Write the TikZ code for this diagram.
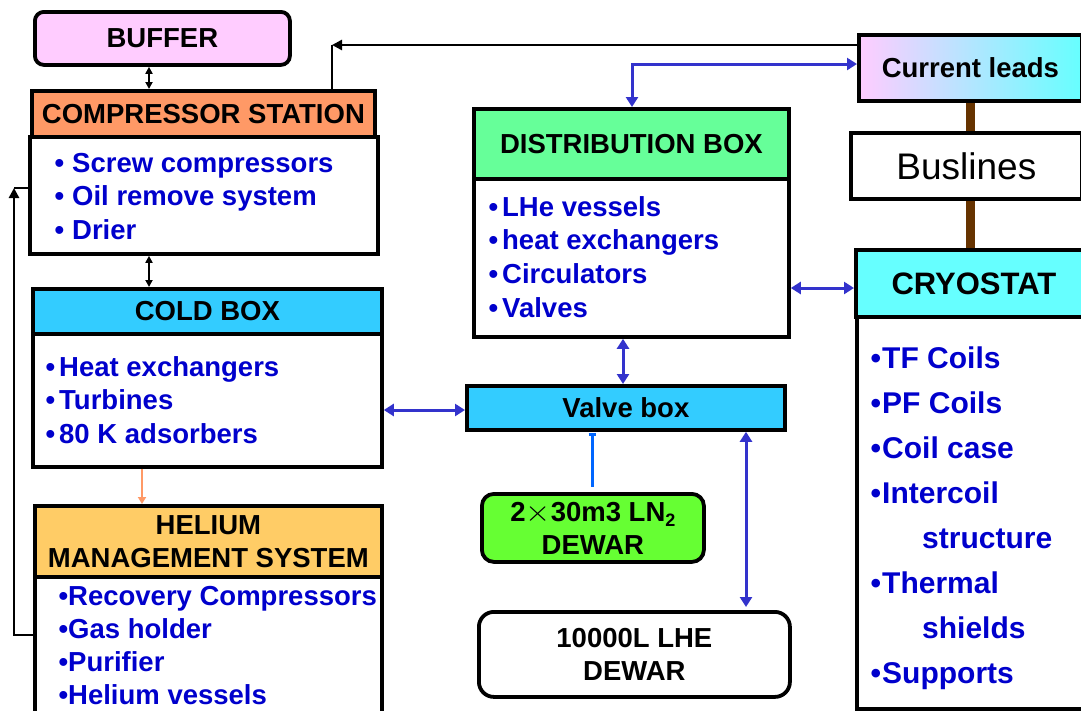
\documentclass[tikz,border=0pt]{standalone}
\usepackage{fontspec}
\setmainfont{Liberation Sans}
\usetikzlibrary{arrows.meta}

\definecolor{itemblue}{HTML}{0000CC}
\definecolor{linkblue}{HTML}{3333CC}
\definecolor{lnblue}{HTML}{0066FF}
\definecolor{bufpink}{HTML}{FFCCFF}
\definecolor{comporange}{HTML}{FF9966}
\definecolor{coldcyan}{HTML}{33CCFF}
\definecolor{hegold}{HTML}{FFCC66}
\definecolor{distgreen}{HTML}{66FF99}
\definecolor{lngreen}{HTML}{66FF33}
\definecolor{cryocyan}{HTML}{66FFFF}
\definecolor{busbrown}{HTML}{663300}

% bullet hung left of the item text
\newcommand{\itemdot}[1]{\llap{•\kern#1}}

\tikzset{
	box/.style={draw, line width=3.8pt, inner sep=0pt, anchor=north west, align=center,
		font=\fontsize{27.5}{33}\selectfont\bfseries},
	item/.style={anchor=base west, inner sep=0pt, text=itemblue,
		font=\fontsize{27.5}{33}\selectfont\bfseries},
	link/.style={line width=3pt, linkblue, {Triangle[length=10pt,width=12pt]}-{Triangle[length=10pt,width=12pt]}},
	blk/.style={line width=2.8pt, black},
}

\begin{document}
\begin{tikzpicture}[x=1pt, y=-1pt]
			\useasboundingbox (0,0) rectangle (1081,710);
			\clip (0,0) rectangle (1081,710);
			
			% left column
			\node[box, rounded corners=9pt, fill=bufpink, minimum width=255pt, minimum height=53pt] (buffer) at (33,10) {BUFFER};
			\node[box, fill=comporange, minimum width=343pt, minimum height=46pt] (comphead) at (30,89) {COMPRESSOR STATION};
			\node[box, minimum width=348pt, minimum height=117pt] (compbody) at (28,135) {};
			\node[box, fill=coldcyan, minimum width=349pt, minimum height=45pt] (coldhead) at (31,287) {COLD BOX};
			\node[box, minimum width=349pt, minimum height=133pt] (coldbody) at (31,332) {};
			\node[box, fill=hegold, minimum width=347pt, minimum height=71pt] (hehead) at (33,504) {HELIUM\\MANAGEMENT SYSTEM};
			\node[box, minimum width=347pt, minimum height=160pt] (hebody) at (33,575) {};
			
			\foreach \t [count=\k from 0] in {Screw compressors, Oil remove system, Drier}
				\node[item] (comp-\k) at (72,{172+33.5*\k}) {\itemdot{8pt}{\mdseries}\t};
			\foreach \t [count=\k from 0] in {Heat exchangers, Turbines, 80 K adsorbers}
				\node[item] (cold-\k) at (59,{376+33.5*\k}) {\itemdot{4pt}\t};
			\foreach \t [count=\k from 0] in {Recovery Compressors, Gas holder, Purifier, Helium vessels}
				\node[item] (he-\k) at (68,{605+33*\k}) {\itemdot{0pt}\t};
			
			% middle column
			\node[box, fill=distgreen, minimum width=315pt, minimum height=70pt] (disthead) at (472,107) {DISTRIBUTION BOX};
			\node[box, minimum width=315pt, minimum height=158pt] (distbody) at (472,177) {};
			\node[box, fill=coldcyan, minimum width=318pt, minimum height=44pt] (valve) at (465,384) {Valve box};
			\node[box, rounded corners=12pt, fill=lngreen, minimum width=222pt, minimum height=68pt] (ln) at (480,492)
				{2\scalebox{1.3}[1.2]{$\times$}30m3 LN\raisebox{-5pt}{\fontsize{18}{18}\selectfont 2}\\DEWAR};
			\node[box, rounded corners=15pt, fill=white, minimum width=311pt, minimum height=85pt] (lhe) at (477,610) {10000L LHE\\DEWAR};
			
			\foreach \t [count=\k from 0] in {LHe vessels, heat exchangers, Circulators, Valves}
				\node[item] (dist-\k) at (502,{216+33.7*\k}) {\itemdot{4pt}\t};
			
			% right column
			\node[box, left color=bufpink, right color=cryocyan, minimum width=223pt, minimum height=66pt] (leads) at (857,33) {Current leads};
			\node[box, fill=white, minimum width=231pt, minimum height=66pt, font=\fontsize{37}{40}\selectfont] (bus) at (849,131) {Buslines};
			\node[box, fill=cryocyan, minimum width=236pt, minimum height=67pt, font=\fontsize{31}{36}\selectfont\bfseries] (cryohead) at (854,248) {CRYOSTAT};
			\node[box, minimum width=235pt, minimum height=392pt] (cryobody) at (855,315) {};
			
			\foreach \t [count=\k from 0] in {\itemdot{1pt}TF Coils, \itemdot{1pt}PF Coils, \itemdot{1pt}Coil case,
					\itemdot{1pt}Intercoil, \hspace{40pt}structure, \itemdot{1pt}Thermal, \hspace{40pt}shields, \itemdot{1pt}Supports}
				\node[item, font=\fontsize{30}{36}\selectfont\bfseries] (cryo-\k) at (882,{368+45*\k}) {\t};
			
			\draw[line width=9pt, busbrown] (leads.south) -- (leads.south |- bus.north);
			\draw[line width=9pt, busbrown] (leads.south |- bus.south) -- (leads.south |- cryohead.north);
			
			% black return lines
			\coordinate (rettop) at (332,45);
			\coordinate (retlow) at (14,635);
			\coordinate (retup) at (14,188);
			\draw[blk, -{Triangle[length=10pt,width=10pt]}] (leads.west |- rettop) -- (rettop);
			\draw[blk] (rettop) -- (rettop |- comphead.north);
			\draw[blk, -{Triangle[length=10pt,width=10pt]}] (hebody.west |- retlow) -- (retlow) -- (retup);
			\draw[blk] (retup) -- (compbody.west |- retup);
			
			\draw[blk, line width=2.4pt, {Triangle[length=7pt,width=7pt]}-{Triangle[length=7pt,width=7pt]}] (149,0 |- buffer.south) -- (149,0 |- comphead.north);
			\draw[blk, line width=2.4pt, {Triangle[length=7pt,width=7pt]}-{Triangle[length=7pt,width=7pt]}] (149,0 |- compbody.south) -- (149,0 |- coldhead.north);
			\draw[line width=2.8pt, comporange, -{Triangle[length=7pt,width=8pt]}] (142,0 |- coldbody.south) -- (142,0 |- hehead.north);
			
			% blue links
			\draw[link] (632,0 |- disthead.north) |- (leads.west |- 0,64);
			\draw[link] (distbody.east |- 0,288) -- (cryohead.west |- 0,288);
			\draw[link] (623,0 |- distbody.south) -- (623,0 |- valve.north);
			\draw[link] (coldbody.east |- 0,410) -- (valve.west |- 0,410);
			\draw[link, shorten >=3pt] (746,0 |- valve.south) -- (746,0 |- lhe.north);
			\draw[line width=3pt, lnblue, {Bar[width=7pt]}-, shorten <=1pt] (592,0 |- valve.south) -- (592,487);
\end{tikzpicture}
\end{document}
